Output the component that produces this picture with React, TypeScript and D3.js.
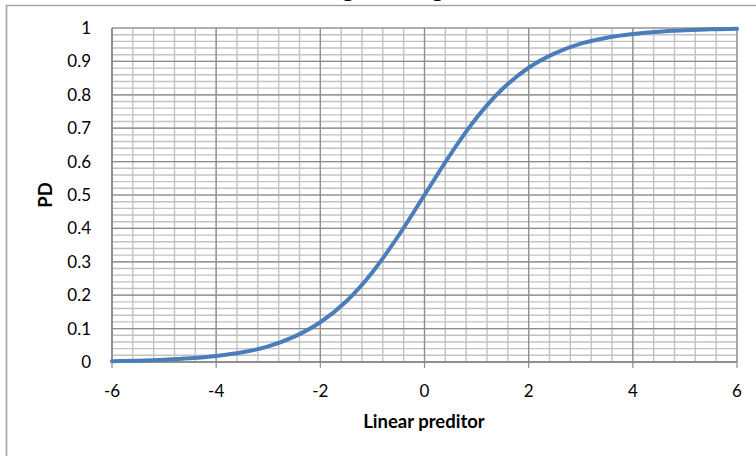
import React from "react";
import * as d3 from "d3";

const xValues = [-6, -5.5, -5, -4.5, -4, -3.5, -3, -2.5, -2, -1.5, -1, -0.5, 0, 0.5, 1, 1.5, 2, 2.5, 3, 3.5, 4, 4.5, 5, 5.5, 6];
const pdValues = [0.0025, 0.004, 0.0067, 0.011, 0.018, 0.029, 0.047, 0.076, 0.119, 0.182, 0.269, 0.378, 0.5, 0.622, 0.731, 0.818, 0.881, 0.924, 0.953, 0.971, 0.982, 0.989, 0.993, 0.996, 0.9975];
const xTicks = [-6, -4, -2, 0, 2, 4, 6];
const yTicks = [0, 0.1, 0.2, 0.3, 0.4, 0.5, 0.6, 0.7, 0.8, 0.9, 1];
const titleText = "Logistic Regression";
const xTitle = "Linear preditor";
const yTitle = "PD";

const W = 756;
const H = 456;
const left = 112;
const right = 737;
const top = 28;
const bottom = 362;
const font = "Lato, 'Open Sans', sans-serif";

export default function App() {
  const x = d3.scaleLinear().domain([-6, 6]).range([left, right]);
  const y = d3.scaleLinear().domain([0, 1]).range([bottom, top]);
  const minorX = d3.range(-6, 6.0001, 0.4);
  const minorY = d3.range(0, 1.0001, 0.02);
  const line = d3
    .line<number>()
    .x((_, i) => x(xValues[i]))
    .y((d) => y(d))
    .curve(d3.curveMonotoneX);

  return (
    <svg width={W} height={H} style={{ position: "absolute", left: 0, top: 0, background: "#fff" }}>
      <rect x={0} y={0} width={W} height={H} fill="#fff" />
      <text x={418} y={-3} textAnchor="middle" fontFamily={font} fontWeight="bold" fontSize={24} fill="#000">
        {titleText}
      </text>
      <path d={`M6.5,${H + 5} V5.5 H${W + 5}`} fill="none" stroke="#a6a6a6" strokeWidth={1.6} />
      {minorY.map((v, i) => (
        <line key={"my" + i} x1={left} x2={right} y1={y(v)} y2={y(v)} stroke="#c2c2c2" strokeWidth={1.4} />
      ))}
      {minorX.map((v, i) => (
        <line key={"mx" + i} x1={x(v)} x2={x(v)} y1={top} y2={bottom} stroke="#c2c2c2" strokeWidth={1.4} />
      ))}
      {yTicks.map((v, i) => (
        <line key={"gy" + i} x1={left} x2={right} y1={y(v)} y2={y(v)} stroke="#8c8c8c" strokeWidth={1.2} />
      ))}
      {xTicks.map((v, i) => (
        <line key={"gx" + i} x1={x(v)} x2={x(v)} y1={top} y2={bottom + 6} stroke="#8c8c8c" strokeWidth={1.2} />
      ))}
      <line x1={left} x2={right} y1={bottom} y2={bottom} stroke="#868686" strokeWidth={1.6} />
      <line x1={left} x2={left} y1={top} y2={bottom} stroke="#868686" strokeWidth={1.4} />
      <path d={line(pdValues) || ""} fill="none" stroke="#4a7ebb" strokeWidth={4} strokeLinecap="round" />
      {yTicks.map((v, i) => (
        <text key={"ty" + i} x={91} y={y(v) + 6} textAnchor="end" fontFamily={font} fontSize={17} fill="#000">
          {String(v)}
        </text>
      ))}
      {xTicks.map((v, i) => (
        <text key={"tx" + i} x={x(v)} y={397} textAnchor="middle" fontFamily={font} fontSize={17} fill="#000">
          {String(v)}
        </text>
      ))}
      <text x={424} y={428} textAnchor="middle" fontFamily={font} fontWeight="bold" fontSize={18.5} fill="#000">
        {xTitle}
      </text>
      <text
        transform={`translate(52,195) rotate(-90)`}
        textAnchor="middle"
        fontFamily={font}
        fontWeight="bold"
        fontSize={18.5}
        fill="#000"
      >
        {yTitle}
      </text>
    </svg>
  );
}
